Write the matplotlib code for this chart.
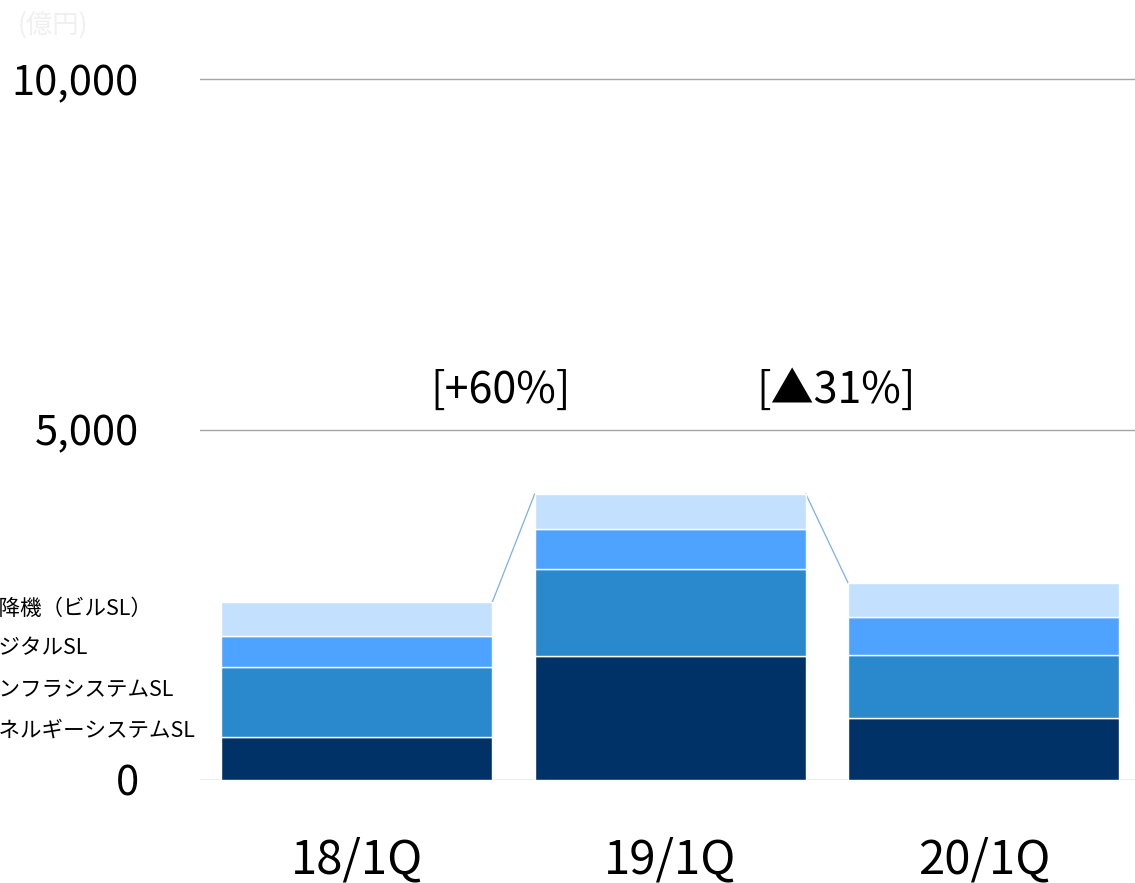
import matplotlib
matplotlib.use("Agg")
import matplotlib.pyplot as plt
import numpy as np

plt.rcParams['font.family'] = ['Noto Sans CJK JP', 'DejaVu Sans']

# ---- data ----
categories = ["18/1Q", "19/1Q", "20/1Q"]
segments = ["エネルギーシステムSL", "インフラシステムSL", "デジタルSL", "昇降機（ビルSL）"]
energy = [613, 1769, 884]
infra = [999, 1241, 899]
digital = [442, 571, 542]
elevator = [485, 499, 485]
changes = ["[+60%]", "[▲31%]"]
yticks = [0, 5000, 10000]
ytick_labels = ["0", "5,000", "10,000"]
unit = "(億円)"

colors = ["#003268", "#2A89CD", "#4DA3FF", "#C4E0FF"]

W, H = 1135, 883
fig = plt.figure(figsize=(W / 100, H / 100), dpi=100)
ax = fig.add_axes([200 / W, 1 - 780 / H, 940.5 / W, 771 / H])

x = np.arange(len(categories))
width = 0.865
bottom = np.zeros(len(categories))
series = [energy, infra, digital, elevator]
for vals, c in zip(series, colors):
    ax.bar(x, vals, width, bottom=bottom, color=c, edgecolor="white", linewidth=1.0, zorder=3)
    bottom = bottom + np.array(vals)
totals = bottom

# connectors between bar tops and change annotations
ann_offsets = [-0.04, 0.03]
for i in range(len(categories) - 1):
    ax.plot([x[i] + width / 2, x[i + 1] - width / 2], [totals[i], totals[i + 1]],
            color="#7FAEE6", linewidth=0.9, zorder=2)
    ax.text((x[i] + x[i + 1]) / 2 + ann_offsets[i], 5550, changes[i], ha="center", va="center",
            fontsize=31, color="black")

ax.set_xlim(-0.5, 2.5)
ax.set_ylim(0, 11000)
ax.set_yticks(yticks)
ax.set_yticklabels(ytick_labels, fontsize=30)
ax.set_xticks(x)
ax.set_xticklabels(categories, fontsize=34)
ax.tick_params(axis="y", length=0, pad=44)
ax.tick_params(axis="x", length=0, pad=40)
for s in ax.spines.values():
    s.set_visible(False)
for yv in yticks:
    ax.axhline(yv, color="#A6A6A6", linewidth=1.0, zorder=1)

# segment labels on the left (partly cut off by the image edge)
label_y_px = [731, 690, 649, 609]
for lab, ypx in zip(segments, label_y_px):
    fig.text(-23 / W, 1 - ypx / H, lab, ha="left", va="center", fontsize=15.5, color="black")

fig.text(18 / W, 1 - 25 / H, unit, ha="left", va="center", fontsize=19, color="#F0F0F0")

fig.savefig("out.png", dpi=100)
